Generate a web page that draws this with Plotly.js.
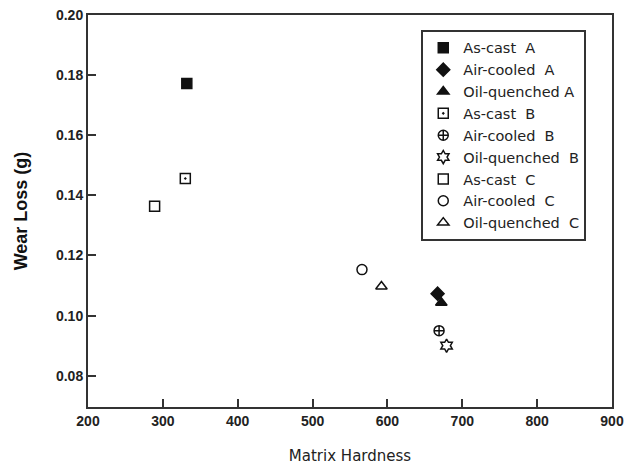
<!DOCTYPE html>
<html>
<head>
<meta charset="utf-8">
<script src="https://cdn.plot.ly/plotly-3.0.1.min.js"></script>
<style>html,body{margin:0;padding:0;background:#fff;}#chart{width:627px;height:468px;}</style>
</head>
<body>
<div id="chart"></div>
<script>
const seriesNames = ["As-cast  A", "Air-cooled  A", "Oil-quenched A", "As-cast  B", "Air-cooled  B", "Oil-quenched  B", "As-cast  C", "Air-cooled  C", "Oil-quenched  C"];
const hardness = [332, 667, 672, 330, 669, 679, 289, 566, 592];
const wearLoss = [0.1772, 0.1073, 0.1043, 0.1456, 0.0950, 0.0900, 0.1364, 0.1153, 0.1097];
const symbols = ["square", "diamond", "triangle-up", "square-open-dot", "circle-cross-open", "hexagram-open", "square-open", "circle-open", "triangle-up-open"];
const xTicks = [200, 300, 400, 500, 600, 700, 800, 900];
const yTicks = [0.08, 0.10, 0.12, 0.14, 0.16, 0.18, 0.20];

const traces = seriesNames.map((n, i) => ({
  type: "scatter", mode: "markers", name: n,
  x: [hardness[i]], y: [wearLoss[i]],
  marker: {symbol: symbols[i], size: 10, color: "#111", line: {color: "#111", width: 1.5}}
}));

const layout = {
  width: 627, height: 468,
  margin: {l: 88, r: 15, t: 15, b: 61},
  paper_bgcolor: "#fff", plot_bgcolor: "#fff",
  showlegend: true,
  legend: {x: 0.636, y: 0.962, xanchor: "left", yanchor: "top",
    bordercolor: "#333", borderwidth: 2, bgcolor: "#fff",
    font: {family: "DejaVu Sans", size: 14.5, color: "#222"}, tracegroupgap: 0, itemwidth: 30},
  xaxis: {range: [200, 900], tickvals: xTicks, ticktext: xTicks.map(String),
    ticks: "inside", ticklen: 8, tickwidth: 1.5, tickcolor: "#333",
    showline: true, linecolor: "#333", linewidth: 2, mirror: true,
    showgrid: false, zeroline: false,
    tickfont: {family: "Liberation Sans", size: 14, color: "#222", weight: "bold"},
    title: {text: "Matrix Hardness", font: {family: "DejaVu Sans", size: 15, color: "#222"}, standoff: 23}},
  yaxis: {range: [0.0696, 0.20], tickvals: yTicks, ticktext: yTicks.map(v => v.toFixed(2)),
    ticks: "inside", ticklen: 8, tickwidth: 1.5, tickcolor: "#333",
    showline: true, linecolor: "#333", linewidth: 2, mirror: true,
    showgrid: false, zeroline: false,
    tickfont: {family: "Liberation Sans", size: 14, color: "#222", weight: "bold"},
    title: {text: "Wear Loss (g)", font: {family: "Liberation Sans", size: 18, color: "#111", weight: "bold"}, standoff: 24}}
};
Plotly.newPlot("chart", traces, layout, {displayModeBar: false});
</script>
</body>
</html>
